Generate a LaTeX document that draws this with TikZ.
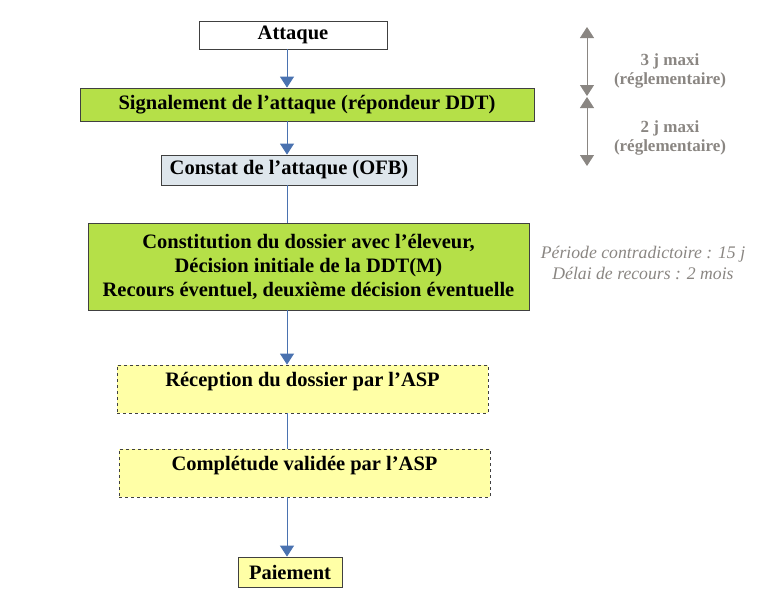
\documentclass[tikz,border=0pt]{standalone}
\usepackage{fontspec}
\setmainfont{Liberation Serif}
\usetikzlibrary{positioning, arrows.meta}
\definecolor{BoxGreen}{RGB}{181, 224, 72}
\definecolor{BoxYellow}{RGB}{255, 255, 166}
\definecolor{BoxGray}{RGB}{222, 230, 236}
\definecolor{FlowBlue}{RGB}{74, 114, 176}
\definecolor{NoteGray}{RGB}{138, 134, 130}

\tikzset{
  box/.style={draw=black!75, thick, inner sep=0pt, align=center, font=\bfseries\fontsize{20.5}{24}\selectfont},
  flow/.style={draw=FlowBlue, thick, -{Triangle[width=14pt,length=11pt]}},
  link/.style={draw=FlowBlue, thick},
  span/.style={draw=NoteGray, thick, {Triangle[width=14pt,length=11pt]}-{Triangle[width=14pt,length=11pt]}},
  note/.style={text=NoteGray, font=\bfseries\fontsize{17}{18.5}\selectfont},
  notei/.style={text=NoteGray, font=\itshape\fontsize{17.7}{21}\selectfont}
}

\begin{document}
\begin{tikzpicture}[x=1pt, y=-1pt]
    \useasboundingbox (0,0) rectangle (762,600);

    % Steps
    \node[box, fill=white, minimum width=188, minimum height=28] (attaque) at (293,35) {Attaque};
    \node[box, fill=BoxGreen, minimum width=454, minimum height=33] (signal) at (307,104.5) {Signalement de l'attaque (répondeur DDT)};
    \node[box, fill=BoxGray, minimum width=256, minimum height=30] (constat) at (289,170) {Constat de l'attaque (OFB)};
    \node[box, fill=BoxGreen, minimum width=441, minimum height=87] (dossier) at (308.5,266.5) {Constitution du dossier avec l'éleveur,\\Décision initiale de la DDT(M)\\Recours éventuel, deuxième décision éventuelle};
    \node[box, fill=BoxYellow, dashed, minimum width=371, text height=18.5, text depth=23.5, inner ysep=3] (reception) at (302.5,389) {Réception du dossier par l'ASP};
    \node[box, fill=BoxYellow, dashed, minimum width=371, text height=18.5, text depth=23.5, inner ysep=3] (completude) at (304.5,473) {Complétude validée par l'ASP};
    \node[box, fill=BoxYellow, minimum width=104, minimum height=30] (paiement) at (290,572) {Paiement};

    % Connectors
    \coordinate (axe) at (287,0);
    \draw[flow] (attaque.south -| axe) -- (signal.north -| axe);
    \draw[flow] (signal.south -| axe) -- (constat.north -| axe);
    \draw[link] (constat.south -| axe) -- (dossier.north -| axe);
    \draw[flow] (dossier.south -| axe) -- (reception.north -| axe);
    \draw[link] (reception.south -| axe) -- (completude.north -| axe);
    \draw[flow] (completude.south -| axe) -- (paiement.north -| axe);

    % Delays
    \coordinate (d1) at (587,27);
    \coordinate (d2) at (587,96);
    \coordinate (d3) at (587,97);
    \coordinate (d4) at (587,166);
    \draw[span] (d1) -- (d2);
    \draw[span] (d3) -- (d4);
    \node[note, align=center] (delai1) at (670,71) {3 j maxi\\(réglementaire)};
    \node[note, align=center] (delai2) at (670,138) {2 j maxi\\(réglementaire)};
    \node[notei, align=center] (periode) at (643,263) {Période contradictoire : 15 j\\Délai de recours : 2 mois};
\end{tikzpicture}
\end{document}
